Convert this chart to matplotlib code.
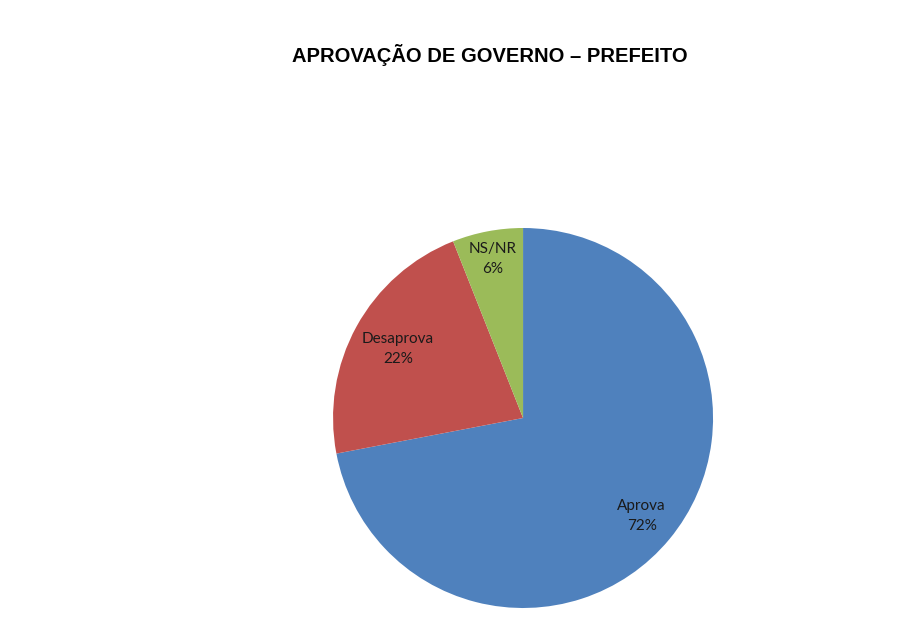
import matplotlib
matplotlib.use("Agg")
import matplotlib.pyplot as plt
import numpy as np

categories = ["Aprova", "Desaprova", "NS/NR"]
values = [72, 22, 6]
colors = ["#4F81BD", "#C0504D", "#9BBB59"]
label_dist = [0.81, 0.75, 0.85]

fig = plt.figure(figsize=(9.19, 6.25), dpi=100)
fig.patch.set_facecolor("white")
ax = fig.add_axes([0.3624, 0.0272, 0.4135, 0.608])
wedges, _ = ax.pie(values, colors=colors, startangle=90, counterclock=False,
                   radius=1.0, wedgeprops=dict(linewidth=0))
ax.set_xlim(-1, 1)
ax.set_ylim(-1, 1)
ax.set_aspect("equal")
ax.axis("off")

for w, cat, v, d in zip(wedges, categories, values, label_dist):
    ang = np.deg2rad((w.theta1 + w.theta2) / 2)
    ax.text(d * np.cos(ang), d * np.sin(ang), f"{cat}\n{v}%", ha="center", va="center",
            fontsize=11, family=["Lato", "DejaVu Sans"], color="#1a1a1a", linespacing=1.55)

fig.text(490 / 919, 1 - 55 / 625, "APROVAÇÃO DE GOVERNO – PREFEITO", ha="center", va="center",
         fontsize=14.5, fontweight="bold", family=["Liberation Sans", "DejaVu Sans"])

fig.savefig("out.png", dpi=100)
